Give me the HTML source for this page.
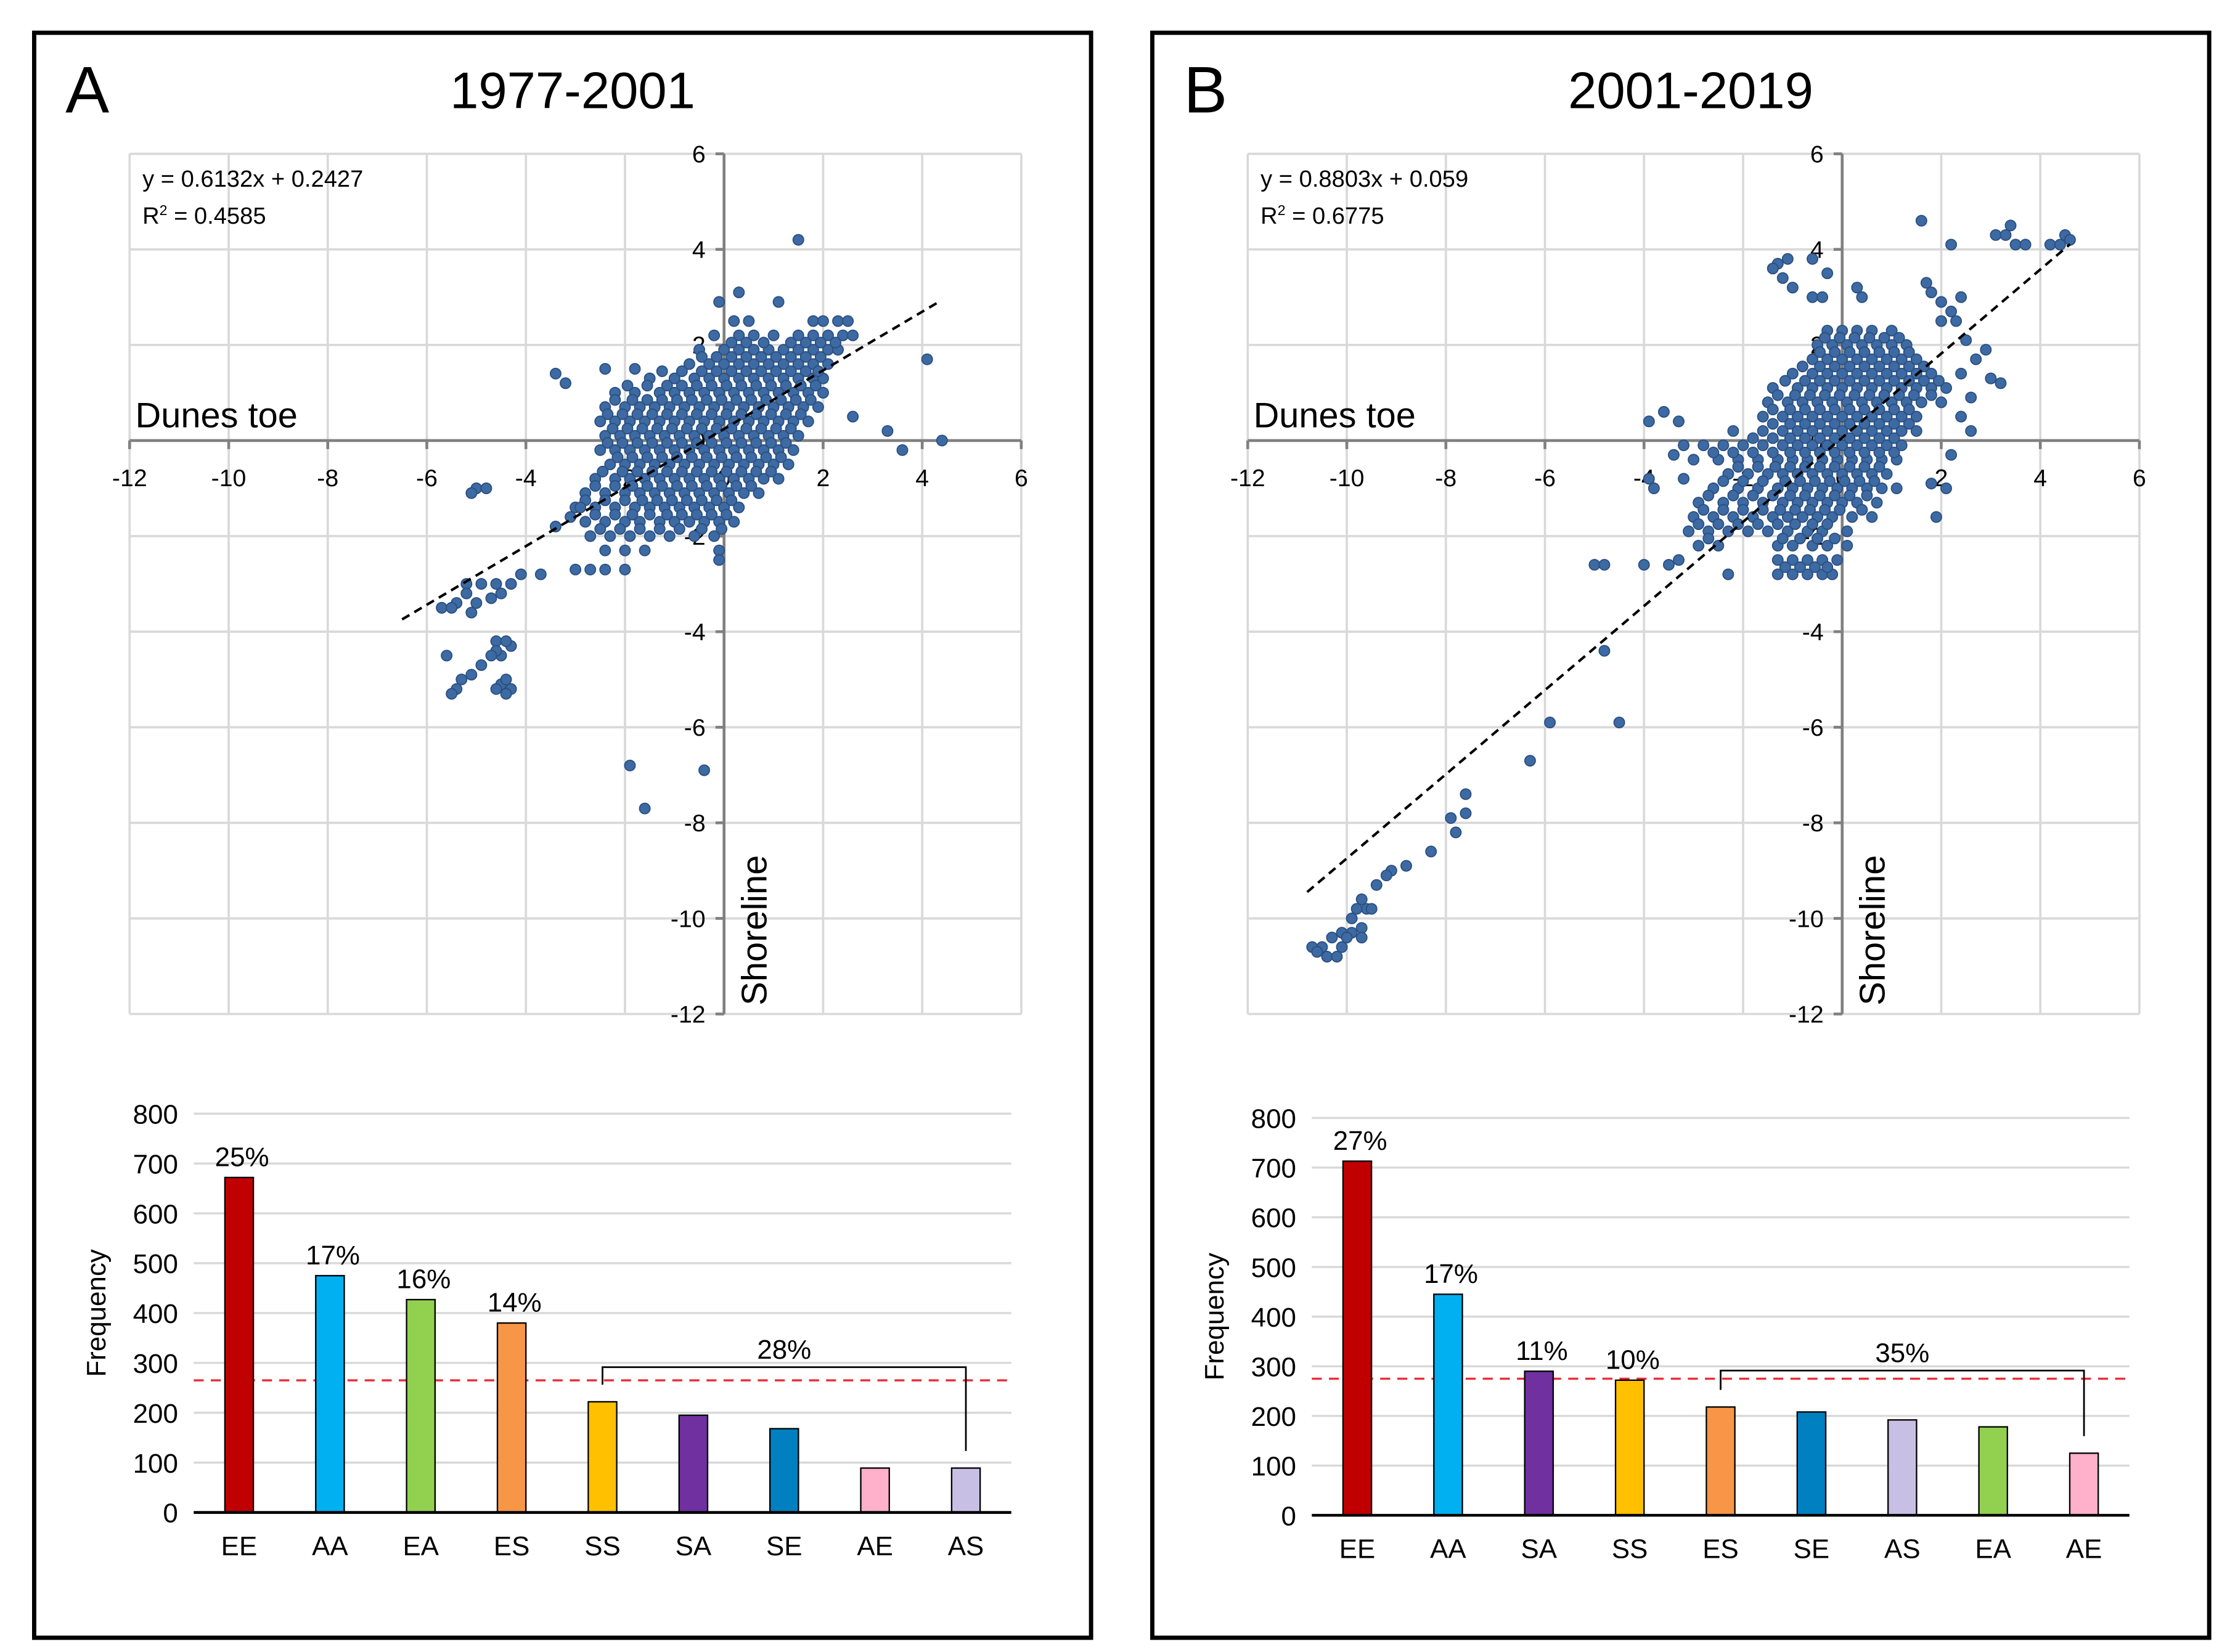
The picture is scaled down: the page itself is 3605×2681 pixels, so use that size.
<!DOCTYPE html>
<html><head><meta charset="utf-8">
<style>
html,body{margin:0;padding:0;background:#fff;}
svg{display:block;font-family:"Liberation Sans",Arial,sans-serif;}
</style></head>
<body>
<svg id="fig" width="3605" height="2681" viewBox="0 0 1560 1160" preserveAspectRatio="none" xmlns="http://www.w3.org/2000/svg">
<rect x="0" y="0" width="1560" height="1160" fill="#fff"/>
</svg>
<script>
// ---------- DATA ----------
const titles = ["1977-2001", "2001-2019"];
const panelLetters = ["A", "B"];
const equationsText = ["y = 0.6132x + 0.2427", "y = 0.8803x + 0.059"];
const r2Text = ["0.4585", "0.6775"];
const slopes = [0.6132, 0.8803];
const intercepts = [0.2427, 0.059];
const lineRangeA = [-6.5, 4.3];
const lineRangeB = [-10.8, 4.6];
const xTicks = [-12, -10, -8, -6, -4, -2, 0, 2, 4, 6];
const yTicks = [6, 4, 2, 0, -2, -4, -6, -8, -10, -12];

// scatter rows: [y, [x values]]
const rowsA = [
 [2.5,[0.2,0.5,1.8,2.0,2.3,2.5]],
 [2.2,[-0.2,0.3,0.6,1.0,1.5,1.8,2.1,2.4,2.6]],
 [1.9,[-0.5,0,0.3,0.6,0.9,1.2,1.5,1.8,2.1,2.3]],
 [1.6,[-0.7,-0.3,0,0.3,0.6,0.9,1.2,1.5,1.8,2.1]],
 [1.3,[-1.5,-1.0,-0.6,-0.3,0,0.3,0.6,0.9,1.2,1.5,1.8,2.0]],
 [1.0,[-2.2,-1.8,-1.3,-1,-0.7,-0.4,-0.1,0.2,0.5,0.8,1.1,1.4,1.7,2.0]],
 [0.7,[-2.4,-2,-1.7,-1.4,-1.1,-0.8,-0.5,-0.2,0.1,0.4,0.7,1.0,1.3,1.6,1.9]],
 [0.4,[-2.5,-2.2,-1.9,-1.6,-1.3,-1,-0.7,-0.4,-0.1,0.2,0.5,0.8,1.1,1.4,1.7]],
 [0.1,[-2.4,-2.1,-1.8,-1.5,-1.2,-0.9,-0.6,-0.3,0,0.3,0.6,0.9,1.2,1.5]],
 [-0.2,[-2.5,-2.2,-1.9,-1.6,-1.3,-1,-0.7,-0.4,-0.1,0.2,0.5,0.8,1.1,1.4]],
 [-0.5,[-2.3,-2,-1.7,-1.4,-1.1,-0.8,-0.5,-0.2,0.1,0.4,0.7,1.0,1.3]],
 [-0.8,[-2.6,-2.2,-1.9,-1.6,-1.3,-1,-0.7,-0.4,-0.1,0.2,0.5,0.8,1.1]],
 [-1.1,[-2.8,-2.4,-2,-1.7,-1.4,-1.1,-0.8,-0.5,-0.2,0.1,0.4,0.7]],
 [-1.4,[-3.0,-2.6,-2.2,-1.8,-1.5,-1.2,-0.9,-0.6,-0.3,0,0.3]],
 [-1.7,[-2.8,-2.4,-2.0,-1.7,-1.3,-1,-0.7,-0.4,-0.1,0.2]],
 [-2.0,[-2.7,-2.3,-1.9,-1.5,-1.1,-0.6,-0.2]],
 [-2.3,[-2.4,-2.0,-1.6,-0.1]],
 [-2.7,[-3.0,-2.7,-2.4,-2.0]]
];
const rowsA2 = [
 [2.05,[0.15,0.45,0.8,1.35,1.65,1.95,2.25]],
 [1.75,[-0.45,-0.15,0.15,0.45,0.75,1.05,1.35,1.65,1.95]],
 [1.45,[-1.25,-0.85,-0.45,-0.15,0.15,0.45,0.75,1.05,1.35,1.65,1.9]],
 [1.15,[-1.95,-1.55,-1.15,-0.85,-0.55,-0.25,0.05,0.35,0.65,0.95,1.25,1.55,1.85]],
 [0.85,[-2.2,-1.85,-1.55,-1.25,-0.95,-0.65,-0.35,-0.05,0.25,0.55,0.85,1.15,1.45,1.75]],
 [0.55,[-2.35,-2.05,-1.75,-1.45,-1.15,-0.85,-0.55,-0.25,0.05,0.35,0.65,0.95,1.25,1.55]],
 [0.25,[-2.25,-1.95,-1.65,-1.35,-1.05,-0.75,-0.45,-0.15,0.15,0.45,0.75,1.05,1.35]],
 [-0.05,[-2.35,-2.05,-1.75,-1.45,-1.15,-0.85,-0.55,-0.25,0.05,0.35,0.65,0.95,1.25]],
 [-0.35,[-2.15,-1.85,-1.55,-1.25,-0.95,-0.65,-0.35,-0.05,0.25,0.55,0.85,1.15]],
 [-0.65,[-2.45,-2.05,-1.75,-1.45,-1.15,-0.85,-0.55,-0.25,0.05,0.35,0.65,0.95]],
 [-0.95,[-2.6,-2.2,-1.85,-1.55,-1.25,-0.95,-0.65,-0.35,-0.05,0.25,0.55]],
 [-1.25,[-2.8,-2.4,-2.0,-1.65,-1.35,-1.05,-0.75,-0.45,-0.15,0.15]],
 [-1.55,[-2.6,-2.2,-1.85,-1.5,-1.15,-0.85,-0.55,-0.25,0.05]],
 [-1.85,[-2.5,-2.1,-1.7,-1.3,-0.9,-0.45,-0.05]]
];
const extraA = [[1.5,4.2],[0.3,3.1],[-0.1,2.9],[4.1,1.7],[4.4,0],[3.6,-0.2],[3.3,0.2],[2.6,0.5],[1.1,2.9],[-3.4,1.4],[-3.2,1.2],[-2.4,1.5],[-1.8,1.5],[-5.0,-1.0],[-5.1,-1.1],[-4.8,-1.0],[-4.1,-2.8],[-3.7,-2.8],[-5.4,-3.4],[-5.2,-3.0],[-4.9,-3.0],[-5.7,-3.5],[-5.5,-3.5],[-5.1,-3.6],[-4.6,-3.0],[-4.5,-3.2],[-4.3,-3.0],[-5.2,-3.2],[-5.0,-3.4],[-4.7,-3.3],[-4.6,-4.2],[-4.5,-4.5],[-4.6,-4.4],[-4.3,-4.3],[-4.4,-4.2],[-4.7,-4.5],[-4.9,-4.7],[-5.1,-4.9],[-5.3,-5.0],[-5.4,-5.2],[-5.5,-5.3],[-5.6,-4.5],[-4.5,-5.1],[-4.3,-5.2],[-4.4,-5.3],[-4.6,-5.2],[-4.4,-5.0],[-1.9,-6.8],[-1.6,-7.7],[-0.4,-6.9],[-0.1,-2.5],[-3.1,-1.6],[-2.9,-1.4],[-3.4,-1.8]];

const rowsB = [
 [2.3,[-0.3,0,0.3,0.6,1.0]],
 [2.0,[-0.5,-0.2,0.1,0.4,0.7,1.0,1.3]],
 [1.7,[-0.6,-0.3,0,0.3,0.6,0.9,1.2,1.5]],
 [1.4,[-1.0,-0.6,-0.3,0,0.3,0.6,0.9,1.2,1.5,1.8]],
 [1.1,[-1.4,-0.9,-0.6,-0.3,0,0.3,0.6,0.9,1.2,1.5,1.8,2.1]],
 [0.8,[-1.5,-1.1,-0.8,-0.5,-0.2,0.1,0.4,0.7,1.0,1.3,1.6,2.0]],
 [0.5,[-1.6,-1.2,-0.9,-0.6,-0.3,0,0.3,0.6,0.9,1.2,1.5]],
 [0.2,[-2.2,-1.6,-1.2,-0.9,-0.6,-0.3,0,0.3,0.6,0.9,1.2,1.5]],
 [-0.1,[-3.2,-2.8,-2.4,-2,-1.6,-1.2,-0.9,-0.6,-0.3,0,0.3,0.6,0.9,1.2]],
 [-0.4,[-3.0,-2.5,-2.1,-1.7,-1.3,-1,-0.7,-0.4,-0.1,0.2,0.5,0.8,1.1]],
 [-0.7,[-2.3,-1.9,-1.5,-1.2,-0.9,-0.6,-0.3,0,0.3,0.6,0.9]],
 [-1.0,[-2.6,-2.1,-1.7,-1.3,-1,-0.7,-0.4,-0.1,0.2,0.5,0.8,1.1]],
 [-1.3,[-2.9,-2.4,-2,-1.6,-1.2,-0.9,-0.6,-0.3,0,0.3,0.7]],
 [-1.6,[-3.0,-2.6,-2.2,-1.8,-1.4,-1.1,-0.8,-0.5,-0.2,0.2,0.6]],
 [-1.9,[-3.1,-2.7,-2.3,-1.9,-1.5,-1.1,-0.7,-0.4,0.1]],
 [-2.2,[-2.9,-2.5,-1.3,-1.0,-0.6,-0.3,0.1]],
 [-2.5,[-3.3,-1.3,-1.0,-0.7,-0.4,-0.1]],
 [-2.8,[-1.3,-1.0,-0.7,-0.4,-0.2]]
];
const rowsB2 = [
 [2.15,[-0.35,-0.05,0.25,0.55,0.85,1.15]],
 [1.85,[-0.45,-0.15,0.15,0.45,0.75,1.05,1.35]],
 [1.55,[-0.8,-0.45,-0.15,0.15,0.45,0.75,1.05,1.35,1.65]],
 [1.25,[-1.15,-0.75,-0.45,-0.15,0.15,0.45,0.75,1.05,1.35,1.65,1.95]],
 [0.95,[-1.3,-0.95,-0.65,-0.35,-0.05,0.25,0.55,0.85,1.15,1.45,1.8]],
 [0.65,[-1.4,-1.05,-0.75,-0.45,-0.15,0.15,0.45,0.75,1.05,1.35]],
 [0.35,[-1.4,-1.05,-0.75,-0.45,-0.15,0.15,0.45,0.75,1.05,1.35]],
 [0.05,[-1.8,-1.4,-1.05,-0.75,-0.45,-0.15,0.15,0.45,0.75,1.05]],
 [-0.25,[-2.6,-2.2,-1.8,-1.4,-1.05,-0.75,-0.45,-0.15,0.15,0.45,0.75,1.05]],
 [-0.55,[-2.1,-1.7,-1.35,-1.05,-0.75,-0.45,-0.15,0.15,0.45,0.75]],
 [-0.85,[-2.4,-2.0,-1.6,-1.15,-0.85,-0.55,-0.25,0.05,0.35,0.65]],
 [-1.15,[-2.7,-2.2,-1.8,-1.4,-1.05,-0.75,-0.45,-0.15,0.15,0.5]],
 [-1.45,[-2.8,-2.4,-2.0,-1.6,-1.25,-0.95,-0.65,-0.35,-0.05,0.4]],
 [-1.75,[-2.9,-2.5,-2.1,-1.7,-1.3,-0.95,-0.6,-0.3]],
 [-2.05,[-2.7,-1.2,-0.85,-0.5,-0.15]],
 [-2.65,[-1.15,-0.85,-0.55,-0.3]]
];
const extraB = [[1.6,4.6],[2.2,4.1],[3.1,4.3],[3.3,4.3],[3.4,4.5],[3.5,4.1],[3.7,4.1],[4.2,4.1],[4.4,4.1],[4.5,4.3],[4.6,4.2],[-1.3,3.7],[-1.1,3.8],[-1.4,3.6],[-1.2,3.4],[-1.0,3.2],[-0.6,3.0],[-0.4,3.0],[-0.3,3.5],[-0.6,3.8],[0.3,3.2],[0.4,3.0],[1.7,3.3],[1.8,3.1],[2.0,2.9],[2.2,2.7],[2.4,3.0],[2.3,2.5],[2.0,2.5],[2.5,2.1],[2.7,1.7],[2.9,1.9],[2.4,1.4],[3.0,1.3],[3.2,1.2],[2.6,0.9],[2.4,0.5],[2.6,0.2],[2.2,-0.3],[1.8,-0.9],[2.1,-1.0],[1.9,-1.6],[-3.9,0.4],[-3.6,0.6],[-3.3,0.4],[-3.4,-0.3],[-3.9,-0.8],[-3.8,-1.0],[-3.2,-0.8],[-5.0,-2.6],[-4.8,-2.6],[-4.0,-2.6],[-3.5,-2.6],[-2.3,-2.8],[-4.8,-4.4],[-5.9,-5.9],[-4.5,-5.9],[-6.3,-6.7],[-7.6,-7.4],[-7.6,-7.8],[-7.9,-7.9],[-7.8,-8.2],[-8.3,-8.6],[-8.8,-8.9],[-9.1,-9.0],[-9.2,-9.1],[-9.4,-9.3],[-9.7,-9.6],[-9.6,-9.8],[-9.8,-9.8],[-9.5,-9.8],[-9.9,-10.0],[-9.7,-10.2],[-9.9,-10.3],[-10.1,-10.3],[-10.3,-10.4],[-10.5,-10.6],[-10.7,-10.6],[-10.6,-10.7],[-10.4,-10.8],[-10.2,-10.8],[-10.1,-10.6],[-9.7,-10.4],[-10.0,-10.4]];

const barCatsA = ["EE","AA","EA","ES","SS","SA","SE","AE","AS"];
const barValsA = [672, 475, 427, 380, 222, 195, 168, 89, 89];
const barPctA = ["25%","17%","16%","14%","","","","",""];
const barCatsB = ["EE","AA","SA","SS","ES","SE","AS","EA","AE"];
const barValsB = [713, 445, 290, 272, 218, 208, 192, 178, 125];
const barPctB = ["27%","17%","11%","10%","","","","",""];
const barTicks = [0,100,200,300,400,500,600,700,800];
const meanLineA = 265;
const meanLineB = 275;
const bracketA = {from:4, to:8, level:300, label:"28%"};
const bracketB = {from:4, to:8, level:300, label:"35%"};
const catColors = {EE:"#c00000",AA:"#00b0f0",EA:"#92d050",ES:"#f79646",SS:"#ffc000",SA:"#7030a0",SE:"#0080c0",AE:"#ffb0cb",AS:"#c8c0e4"};

// ---------- DRAW ----------
const NS = "http://www.w3.org/2000/svg";
const svg = document.getElementById('fig');
function mk(tag, attrs, parent, text){
  const e = document.createElementNS(NS, tag);
  for (const k in attrs) e.setAttribute(k, attrs[k]);
  if (text !== undefined) e.textContent = text;
  (parent||svg).appendChild(e);
  return e;
}

function drawPanel(i, dx, rowSets, extra, lineRange, cats, vals, pcts, meanLine, bracket, barY0, barY800){
  const g = mk('g', {});
  
  
  const border = mk('rect', {x:24+dx, y:23, width:742, height:1127, fill:'none', stroke:'#000', 'stroke-width':3}, g);
  
  
  const letter = mk('text', {x:46+dx, y:79, 'font-size':46}, g, panelLetters[i]);
  
  
  const title = mk('text', {x:402+dx, y:76, 'font-size':36, 'text-anchor':'middle'}, g, titles[i]);
  
  

  const L = 91+dx, R = 717+dx, T = 108, B = 712;
  const sx = v => L + (v + 12) * (R - L) / 18;
  const sy = v => T + (6 - v) * (B - T) / 18;
  const sc = mk('g', {}, g);
  
  
  xTicks.forEach(t => {
    const gl = mk('line', {x1:sx(t), x2:sx(t), y1:T, y2:B, stroke:'#d9d9d9', 'stroke-width':1.6}, sc);
    
    
  });
  yTicks.forEach(t => {
    const gl = mk('line', {x1:L, x2:R, y1:sy(t), y2:sy(t), stroke:'#d9d9d9', 'stroke-width':1.6}, sc);
    
    
  });
  const xa = mk('line', {x1:L, x2:R, y1:sy(0), y2:sy(0), stroke:'#808080', 'stroke-width':2}, sc);
  
  
  const ya = mk('line', {x1:sx(0), x2:sx(0), y1:T, y2:B, stroke:'#808080', 'stroke-width':2}, sc);
  
  
  xTicks.forEach(t => {
    mk('line', {x1:sx(t), x2:sx(t), y1:sy(0), y2:sy(0)+6, stroke:'#808080', 'stroke-width':2}, sc);
    const tl = mk('text', {x:sx(t), y:sy(0)+32, 'font-size':17, 'text-anchor':'middle'}, sc, String(t));
    
    
  });
  yTicks.forEach(t => {
    mk('line', {x1:sx(0)-6, x2:sx(0), y1:sy(t), y2:sy(t), stroke:'#808080', 'stroke-width':2}, sc);
    const tl = mk('text', {x:sx(0)-13, y:sy(t)+6, 'font-size':17, 'text-anchor':'end'}, sc, String(t));
    
    
  });
  const pts = [];
  rowSets.forEach(rows => rows.forEach(r => r[1].forEach(x => pts.push([x, r[0]]))));
  extra.forEach(p => pts.push(p));
  const pg = mk('g', {}, sc);
  
  
  pts.forEach(p => {
    const c = mk('circle', {cx:sx(p[0]), cy:sy(p[1]), r:3.7, fill:'#3d6aa3', stroke:'#2b4f80', 'stroke-width':0.8}, pg);
    
    
  });
  const fl = mk('line', {x1:sx(lineRange[0]), y1:sy(slopes[i]*lineRange[0]+intercepts[i]), x2:sx(lineRange[1]), y2:sy(slopes[i]*lineRange[1]+intercepts[i]), stroke:'#000', 'stroke-width':1.8, 'stroke-dasharray':'6 4'}, sc);
  
  
  const eq = mk('text', {x:100+dx, y:131, 'font-size':16.5}, sc, equationsText[i]);
  
  
  const r2 = mk('text', {x:100+dx, y:157, 'font-size':16.5}, sc);
  
  
  mk('tspan', {}, r2, 'R');
  mk('tspan', {dy:-6, 'font-size':10}, r2, '2');
  mk('tspan', {dy:6}, r2, ' = ' + r2Text[i]);
  const dt = mk('text', {x:95+dx, y:300, 'font-size':25}, sc, 'Dunes toe');
  
  
  const sh = mk('text', {x:0, y:0, 'font-size':25, transform:'translate(' + (538+dx) + ',706) rotate(-90)'}, sc, 'Shoreline');
  
  

  const bL = 136+dx, bR = 710+dx;
  const by = v => barY0 + (barY800 - barY0) * v / 800;
  const step = (bR - bL) / cats.length;
  const bx = k => bL + step * (k + 0.5);
  const bc = mk('g', {}, g);
  
  
  barTicks.forEach(t => {
    if (t > 0) {
      const gl = mk('line', {x1:bL, x2:bR, y1:by(t), y2:by(t), stroke:'#d9d9d9', 'stroke-width':1.5}, bc);
      
      
    }
    const tl = mk('text', {x:bL-11, y:by(t)+7, 'font-size':19, 'text-anchor':'end'}, bc, String(t));
    
    
  });
  const ml = mk('line', {x1:bL, x2:bR, y1:by(meanLine), y2:by(meanLine), stroke:'#e8303a', 'stroke-width':1.5, 'stroke-dasharray':'7 5'}, bc);
  
  
  cats.forEach((c, k) => {
    const rct = mk('rect', {x:bx(k)-10, y:by(vals[k]), width:20, height:by(0)-by(vals[k]), fill:catColors[c], stroke:'#000', 'stroke-width':1}, bc);
    
    
    const cl = mk('text', {x:bx(k), y:by(0)+30, 'font-size':19, 'text-anchor':'middle'}, bc, c);
    
    
    if (pcts[k]) {
      const pl = mk('text', {x:bx(k)+2, y:by(vals[k])-8, 'font-size':19, 'text-anchor':'middle'}, bc, pcts[k]);
      
      
    }
  });
  const base = mk('line', {x1:bL, x2:bR, y1:by(0), y2:by(0), stroke:'#000', 'stroke-width':2}, bc);
  
  
  const x1 = bx(bracket.from), x2 = bx(bracket.to), ly = by(bracket.level) + 3;
  const br = mk('path', {d:'M'+x1+','+(by(vals[bracket.from])-12)+' V'+ly+' H'+x2+' V'+(by(vals[bracket.to])-12), fill:'none', stroke:'#000', 'stroke-width':1.2}, bc);
  
  
  const bl = mk('text', {x:(x1+x2)/2, y:ly-6, 'font-size':19, 'text-anchor':'middle'}, bc, bracket.label);
  
  
  const fq = mk('text', {x:0, y:0, 'font-size':19, 'text-anchor':'middle', transform:'translate(' + (74+dx) + ',' + ((by(0)+by(800))/2) + ') rotate(-90)'}, bc, 'Frequency');
  
  
}

drawPanel(0, 0, [rowsA, rowsA2], extraA, lineRangeA, barCatsA, barValsA, barPctA, meanLineA, bracketA, 1062, 782);
drawPanel(1, 785, [rowsB, rowsB2], extraB, lineRangeB, barCatsB, barValsB, barPctB, meanLineB, bracketB, 1064, 785);
</script>
</body></html>
